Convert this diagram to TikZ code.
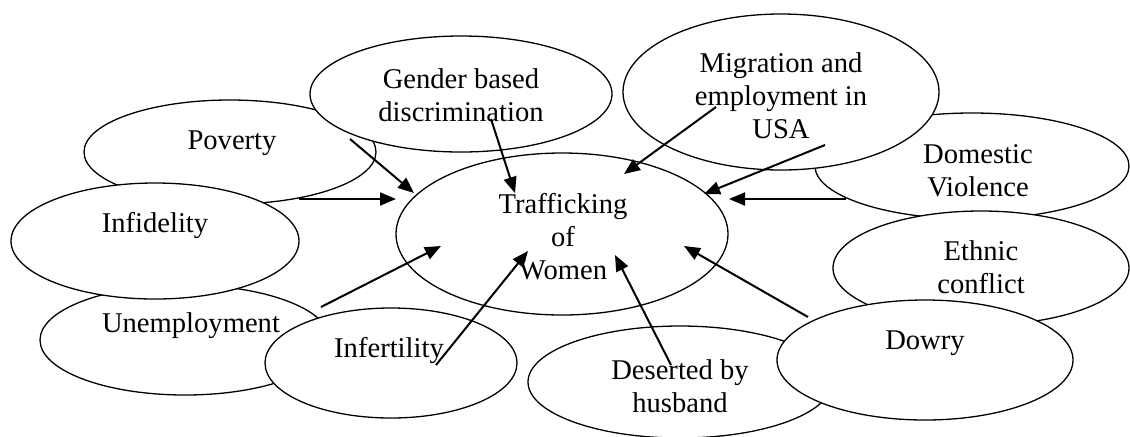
\documentclass[tikz,border=0pt]{standalone}
\usepackage{fontspec}
\setmainfont{Liberation Serif}
\usetikzlibrary{shapes.geometric,arrows.meta}

\tikzset{
	blob/.style={draw, ellipse, fill=white, line width=0.65pt, inner sep=0pt},
	lbl/.style={align=center, font=\fontsize{14.3}{16.5}\selectfont, inner sep=0pt},
	arr/.style={-{Triangle[length=8pt,width=6.5pt]}, line width=1pt}
}

\begin{document}
\begin{tikzpicture}[x=0.5pt, y=-0.5pt]

			\useasboundingbox (0,0) rectangle (1130,436);

			\node [blob, minimum width=145pt, minimum height=55pt] (unemp) at (185,340) {};
			\node [lbl] (unempT) at (191,326) {Unemployment};

			\node [blob, minimum width=146pt, minimum height=52pt] (pov) at (230,152) {};
			\node [lbl] (povT) at (232,143) {Poverty};

			\node [blob, minimum width=144pt, minimum height=58pt] (infid) at (155,241) {};
			\node [lbl] (infidT) at (155,226) {Infidelity};

			\node [blob, minimum width=126pt, minimum height=55pt] (infert) at (391,363) {};
			\node [lbl] (infertT) at (389,351) {Infertility};

			\node [blob, minimum width=151pt, minimum height=58pt] (gender) at (461,94) {};
			\node [lbl] (genderT) at (461,95) {Gender based\\discrimination};

			\node [blob, minimum width=166pt, minimum height=81pt] (traf) at (562,234) {};
			\node [lbl] (trafT) at (563,237) {Trafficking\\of\\Women};

			\node [blob, minimum width=157pt, minimum height=53pt] (dom) at (972,166) {};
			\node [lbl] (domT) at (978,171) {Domestic\\Violence};

			\node [blob, minimum width=158pt, minimum height=78pt] (migr) at (781,92) {};
			\node [lbl] (migrT) at (781,96) {Migration and\\employment in\\USA};

			\node [blob, minimum width=148pt, minimum height=57pt] (ethnic) at (981,268) {};
			\node [lbl] (ethnicT) at (981,267) {Ethnic\\conflict};

			\node [blob, minimum width=152pt, minimum height=56pt] (desert) at (680,382) {};
			\node [lbl] (desertT) at (680,386) {Deserted by\\husband};

			\node [blob, minimum width=148pt, minimum height=60pt] (dowry) at (925,360) {};
			\node [lbl] (dowryT) at (925,343) {Dowry};

			\coordinate (povS) at (350,139);
			\coordinate (povE) at (414,193);
			\coordinate (infidS) at (299,199);
			\coordinate (infidE) at (396,199);
			\coordinate (genderS) at (491,119);
			\coordinate (genderE) at (515,193);
			\coordinate (migrS) at (716,107);
			\coordinate (migrE) at (624,174);
			\coordinate (usaS) at (825,145);
			\coordinate (usaE) at (704,194);
			\coordinate (domS) at (846,199);
			\coordinate (domE) at (729,199);
			\coordinate (unempS) at (321,307);
			\coordinate (unempE) at (441,246);
			\coordinate (infertS) at (436,365);
			\coordinate (infertE) at (528,251);
			\coordinate (desertS) at (671,365);
			\coordinate (desertE) at (615,255);
			\coordinate (dowryS) at (808,317);
			\coordinate (dowryE) at (684,246);

			\draw [arr] (povS) -- (povE);
			\draw [arr] (infidS) -- (infidE);
			\draw [arr] (genderS) -- (genderE);
			\draw [arr] (migrS) -- (migrE);
			\draw [arr] (usaS) -- (usaE);
			\draw [arr] (domS) -- (domE);
			\draw [arr] (unempS) -- (unempE);
			\draw [arr] (infertS) -- (infertE);
			\draw [arr] (desertS) -- (desertE);
			\draw [arr] (dowryS) -- (dowryE);

	\end{tikzpicture}
\end{document}
